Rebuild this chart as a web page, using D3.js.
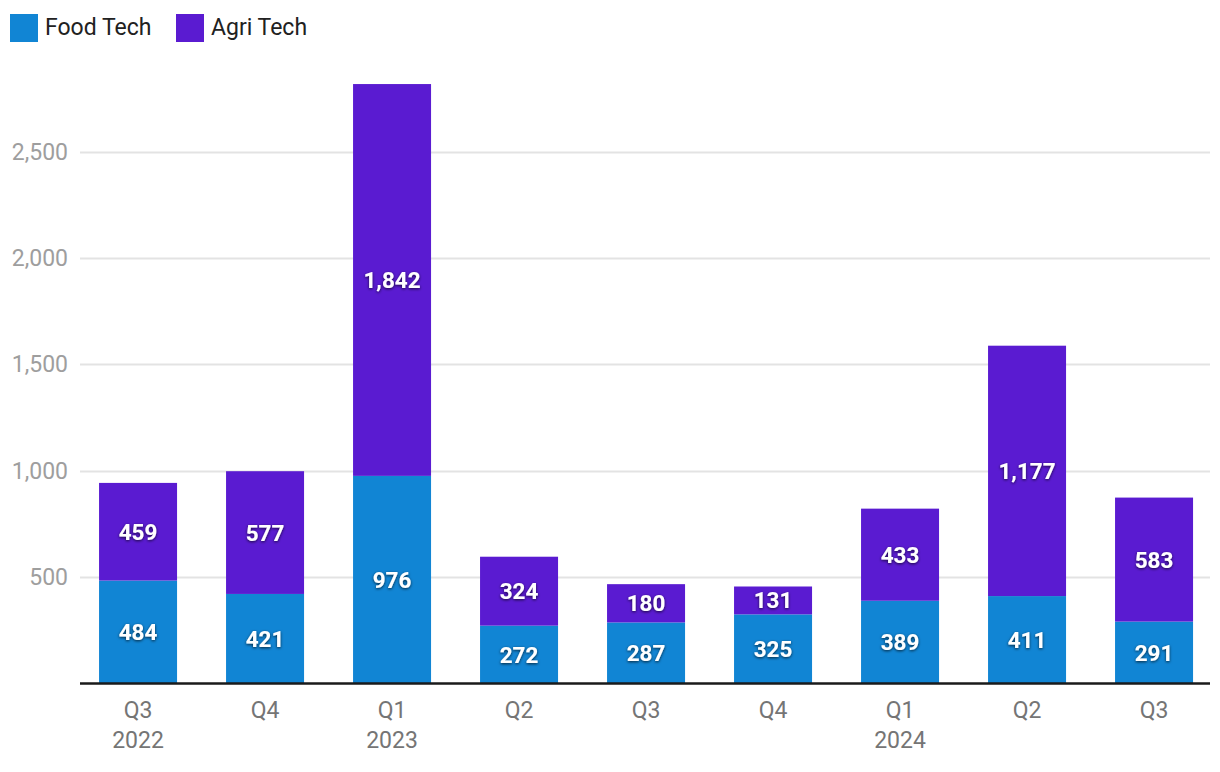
<!DOCTYPE html>
<html><head><meta charset="utf-8">
<script src="https://cdn.jsdelivr.net/npm/d3@7"></script>
<style>
html,body{margin:0;padding:0;background:#fff;}
text{font-family:Roboto, "Noto Sans", sans-serif;}
</style></head>
<body><svg id="c" width="1220" height="772"></svg>
<script>
const quarters = ["Q3","Q4","Q1","Q2","Q3","Q4","Q1","Q2","Q3"];
const years = ["2022","","2023","","","","2024","",""];
const foodTech = [484,421,976,272,287,325,389,411,291];
const agriTech = [459,577,1842,324,180,131,433,1177,583];
const seriesNames = ["Food Tech","Agri Tech"];
const colors = ["#1185d4","#5a1bd1"];
const yTicks = [500,1000,1500,2000,2500];

const svg = d3.select("#c");
const defs = svg.append("defs");
const f = defs.append("filter").attr("id","sh").attr("x","-20%").attr("y","-30%").attr("width","140%").attr("height","160%");
f.append("feDropShadow").attr("dx",0).attr("dy",1).attr("stdDeviation",1.6).attr("flood-color","#000").attr("flood-opacity",0.75);

const left = 80, right = 1210, bottom = 683.5;
const x = d3.scaleBand().domain(d3.range(quarters.length)).range([80,1212.1]).paddingInner(0.3858).paddingOuter(0.15);
const y = d3.scaleLinear().domain([0,2500]).range([bottom,151.7]);

// gridlines
svg.append("g").selectAll("line").data(yTicks).join("line")
  .attr("x1",left).attr("x2",right).attr("y1",d=>Math.round(y(d))+0.5).attr("y2",d=>Math.round(y(d))+0.5)
  .attr("stroke","#e3e3e3").attr("stroke-width",2);
svg.append("g").selectAll("text").data(yTicks).join("text")
  .attr("x",68).attr("y",d=>y(d)+8).attr("text-anchor","end")
  .attr("font-size",23).attr("fill","#9e9e9e").text(d=>d3.format(",")(d));

const stacked = quarters.map((q,i)=>[
  {s:0,y0:0,y1:foodTech[i],v:foodTech[i],i},
  {s:1,y0:foodTech[i],y1:foodTech[i]+agriTech[i],v:agriTech[i],i}
]).flat();

svg.append("g").selectAll("rect").data(stacked).join("rect")
  .attr("x",d=>x(d.i)).attr("width",x.bandwidth())
  .attr("y",d=>y(d.y1)).attr("height",d=>y(d.y0)-y(d.y1))
  .attr("fill",d=>colors[d.s]);

svg.append("g").selectAll("text").data(stacked).join("text")
  .attr("x",d=>x(d.i)+x.bandwidth()/2).attr("y",d=>(y(d.y0)+y(d.y1))/2+8)
  .attr("text-anchor","middle").attr("font-size",22.5).attr("font-weight","bold")
  .attr("fill","#fff").attr("filter","url(#sh)").text(d=>d3.format(",")(d.v));

// baseline
svg.append("line").attr("x1",left).attr("x2",right).attr("y1",bottom).attr("y2",bottom)
  .attr("stroke","#1a1a1a").attr("stroke-width",2.5);

// x labels
const xl = svg.append("g");
xl.selectAll("text.q").data(quarters).join("text").attr("class","q")
  .attr("x",(d,i)=>x(i)+x.bandwidth()/2).attr("y",718).attr("text-anchor","middle")
  .attr("font-size",23).attr("fill","#757575").text(d=>d);
xl.selectAll("text.yr").data(years).join("text").attr("class","yr")
  .attr("x",(d,i)=>x(i)+x.bandwidth()/2).attr("y",748).attr("text-anchor","middle")
  .attr("font-size",23).attr("fill","#757575").text(d=>d);

// legend
const legX = [10,176];
const lg = svg.append("g");
lg.selectAll("rect").data(seriesNames).join("rect")
  .attr("x",(d,i)=>legX[i]).attr("y",14).attr("width",28).attr("height",28).attr("fill",(d,i)=>colors[i]);
lg.selectAll("text").data(seriesNames).join("text")
  .attr("x",(d,i)=>legX[i]+35).attr("y",34.5).attr("font-size",23).attr("fill","#212121").text(d=>d);
</script></body></html>
